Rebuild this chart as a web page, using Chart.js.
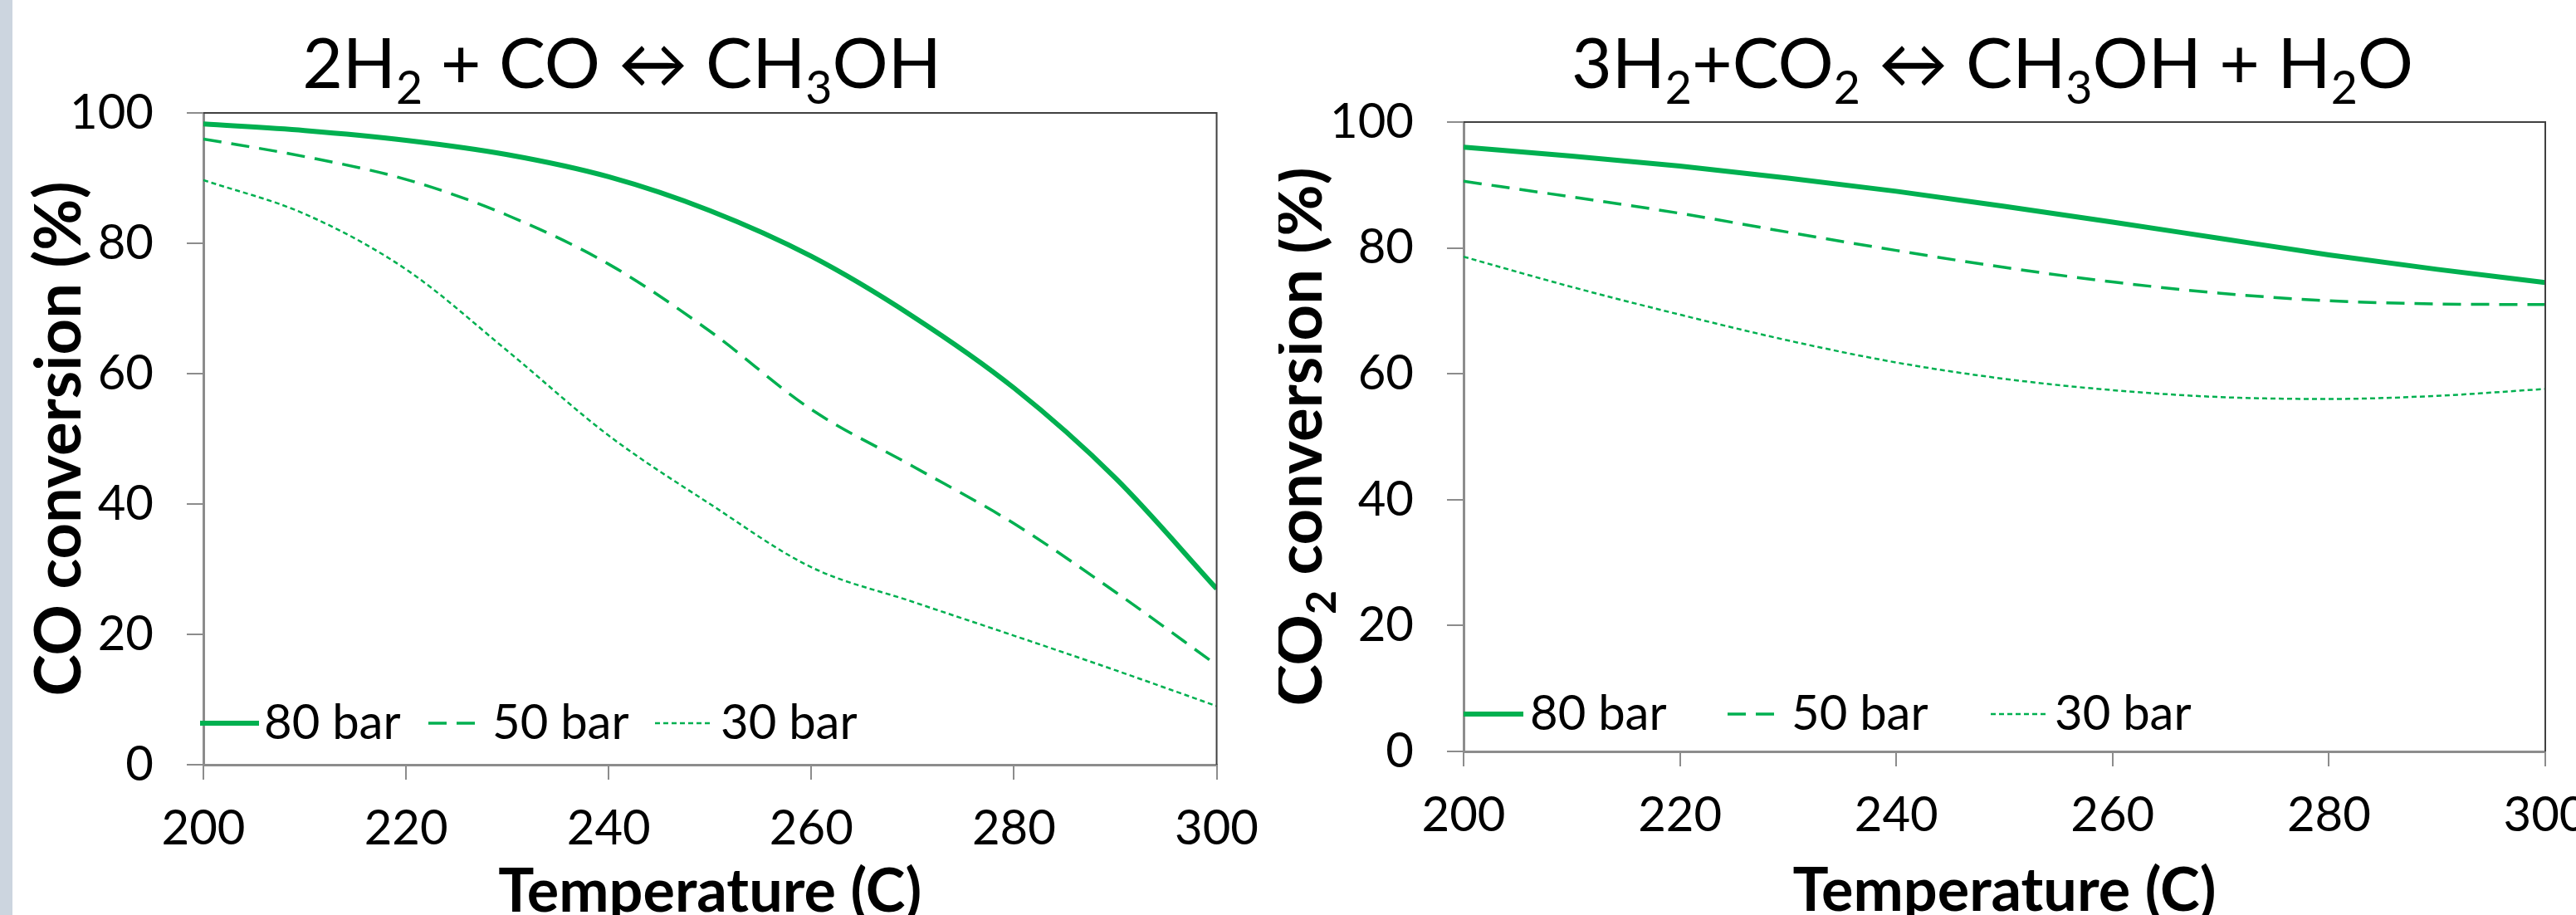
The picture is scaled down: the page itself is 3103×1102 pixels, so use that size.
<!DOCTYPE html>
<html>
<head>
<meta charset="utf-8">
<script src="https://cdn.jsdelivr.net/npm/chart.js@4.4.0/dist/chart.umd.min.js"></script>
<style>
  html, body { margin: 0; padding: 0; background: #fff; overflow: hidden; }
  body { width: 3103px; height: 1102px; position: relative; }
  #strip { position: absolute; left: 0; top: 0; width: 15px; height: 1102px; background: #ccd5df; }
  #c1 { position: absolute; left: 15px; top: 0; }
  #c2 { position: absolute; left: 1540px; top: 0; }
</style>
</head>
<body>
<div id="strip"></div>
<canvas id="c1" width="1525" height="1102"></canvas>
<canvas id="c2" width="1620" height="1102"></canvas>
<script>
// Données
const temps = [200, 210, 220, 230, 240, 250, 260, 270, 280, 290, 300];
const xTicks = [200, 220, 240, 260, 280, 300];
const yTicks = [0, 20, 40, 60, 80, 100];
const seriesNames = ['80 bar', '50 bar', '30 bar'];

// 2H2 + CO <-> CH3OH
const co80 = [98.3, 97.3, 95.8, 93.6, 90.2, 85.0, 78.0, 68.8, 57.8, 44.0, 27.0];
const co50 = [96.0, 93.3, 89.8, 84.3, 76.8, 66.5, 54.5, 45.8, 37.0, 26.5, 15.3];
const co30 = [89.7, 84.5, 76.0, 63.5, 50.5, 40.0, 30.3, 25.0, 19.8, 14.5, 9.0];

// 3H2 + CO2 <-> CH3OH + H2O
const co2_80 = [96.0, 94.6, 93.0, 91.1, 89.0, 86.6, 84.1, 81.5, 78.9, 76.6, 74.5];
const co2_50 = [90.6, 88.1, 85.5, 82.5, 79.6, 76.9, 74.6, 72.8, 71.6, 71.1, 71.0];
const co2_30 = [78.6, 73.8, 69.4, 65.3, 61.8, 59.2, 57.4, 56.3, 56.0, 56.5, 57.6];

const GREEN = '#00b050';
const lineWidths = [6, 3.5, 2.5];
const lineDashes = [[], [22, 12], [6, 4]];
const FONT = 'Lato, "Open Sans", sans-serif';

// texte avec indices (H2, CH3...)
function drawRich(ctx, segs, x, y, size, weight, align) {
    const subSize = size * 0.66;
    let total = 0;
    segs.forEach(s => {
        ctx.font = weight + ' ' + (s[1] ? subSize : size) + 'px ' + FONT;
        total += ctx.measureText(s[0]).width;
    });
    let cx = align === 'center' ? x - total / 2 : x;
    ctx.textAlign = 'left';
    ctx.textBaseline = 'alphabetic';
    segs.forEach(s => {
        ctx.font = weight + ' ' + (s[1] ? subSize : size) + 'px ' + FONT;
        ctx.fillText(s[0], cx, s[1] ? y + size * 0.23 : y);
        cx += ctx.measureText(s[0]).width;
    });
}

const decor = {
    id: 'decor',
    afterDraw(chart, args, o) {
        const ctx = chart.ctx, a = chart.chartArea;
        ctx.save();
        // cadre haut + droite
        ctx.strokeStyle = '#404040';
        ctx.lineWidth = 2;
        ctx.beginPath();
        ctx.moveTo(a.left, a.top);
        ctx.lineTo(a.right, a.top);
        ctx.lineTo(a.right, a.bottom);
        ctx.stroke();

        ctx.fillStyle = '#000';
        drawRich(ctx, o.title, o.titleX, o.titleY, 84, '400', 'center');

        // titre axe x
        drawRich(ctx, [['Temperature (C)', false]], (a.left + a.right) / 2, o.xTitleY, 72, '700', 'center');

        // titre axe y
        ctx.save();
        ctx.translate(o.yTitleX, (a.top + a.bottom) / 2);
        ctx.rotate(-Math.PI / 2);
        drawRich(ctx, o.yTitle, 0, 0, 76, '700', 'center');
        ctx.restore();

        // légende
        const ly = a.bottom - o.legendY;
        seriesNames.forEach((name, i) => {
            ctx.strokeStyle = GREEN;
            ctx.lineWidth = lineWidths[i];
            ctx.setLineDash(lineDashes[i]);
            ctx.beginPath();
            ctx.moveTo(a.left + o.legendLines[i][0], ly);
            ctx.lineTo(a.left + o.legendLines[i][1], ly);
            ctx.stroke();
            ctx.setLineDash([]);
            ctx.font = '400 58px ' + FONT;
            ctx.textAlign = 'left';
            ctx.textBaseline = 'middle';
            ctx.fillText(name, a.left + o.legendText[i], ly);
        });
        ctx.restore();
    }
};

function makeChart(id, series, opts) {
    const datasets = series.map((vals, i) => ({
        label: seriesNames[i],
        data: temps.map((t, k) => ({ x: t, y: vals[k] })),
        borderColor: GREEN,
        borderWidth: lineWidths[i],
        borderDash: lineDashes[i],
        pointRadius: 0,
        fill: false,
        cubicInterpolationMode: 'monotone'
    }));
    const axisColor = '#8c8c8c';
    return new Chart(document.getElementById(id), {
        type: 'line',
        data: { datasets },
        options: {
            responsive: false,
            animation: false,
            devicePixelRatio: 1,
            layout: { padding: { top: opts.top, right: opts.right, left: 0, bottom: 0 } },
            plugins: {
                legend: { display: false },
                tooltip: { enabled: false },
                decor: opts.decor
            },
            scales: {
                x: {
                    type: 'linear',
                    min: 200,
                    max: 300,
                    afterBuildTicks: s => { s.ticks = xTicks.map(v => ({ value: v })); },
                    afterFit: s => { s.height = opts.xHeight; },
                    grid: { drawOnChartArea: false, drawTicks: true, tickLength: 18, color: axisColor, lineWidth: 2 },
                    border: { display: true, color: axisColor, width: 3 },
                    ticks: { font: { family: FONT, size: 58 }, color: '#000', padding: 24, maxRotation: 0, autoSkip: false }
                },
                y: {
                    type: 'linear',
                    min: 0,
                    max: 100,
                    afterBuildTicks: s => { s.ticks = yTicks.map(v => ({ value: v })); },
                    afterFit: s => { s.width = opts.yWidth; },
                    grid: { drawOnChartArea: false, drawTicks: true, tickLength: 20, color: axisColor, lineWidth: 2 },
                    border: { display: true, color: axisColor, width: 3 },
                    ticks: { font: { family: FONT, size: 58 }, color: '#000', padding: 40 }
                }
            }
        },
        plugins: [decor]
    });
}

makeChart('c1', [co80, co50, co30], {
    top: 136, right: 58, xHeight: 181, yWidth: 230,
    decor: {
        title: [['2H', false], ['2', true], [' + CO ↔ CH', false], ['3', true], ['OH', false]],
        titleX: 734, titleY: 106,
        xTitleY: 1098,
        yTitle: [['CO conversion (%)', false]],
        yTitleX: 82,
        legendY: 50,
        legendLines: [[-4, 67], [271, 330], [544, 613]],
        legendText: [73, 348, 623]
    }
});

makeChart('c2', [co2_80, co2_50, co2_30], {
    top: 147, right: 94, xHeight: 197, yWidth: 223,
    decor: {
        title: [['3H', false], ['2', true], ['+CO', false], ['2', true], [' ↔ CH', false], ['3', true], ['OH + H', false], ['2', true], ['O', false]],
        titleX: 860, titleY: 106,
        xTitleY: 1097,
        yTitle: [['CO', false], ['2', true], [' conversion (%)', false]],
        yTitleX: 52,
        legendY: 45,
        legendLines: [[0, 72], [318, 377], [635, 702]],
        legendText: [80, 395, 712]
    }
});
</script>
</body>
</html>
